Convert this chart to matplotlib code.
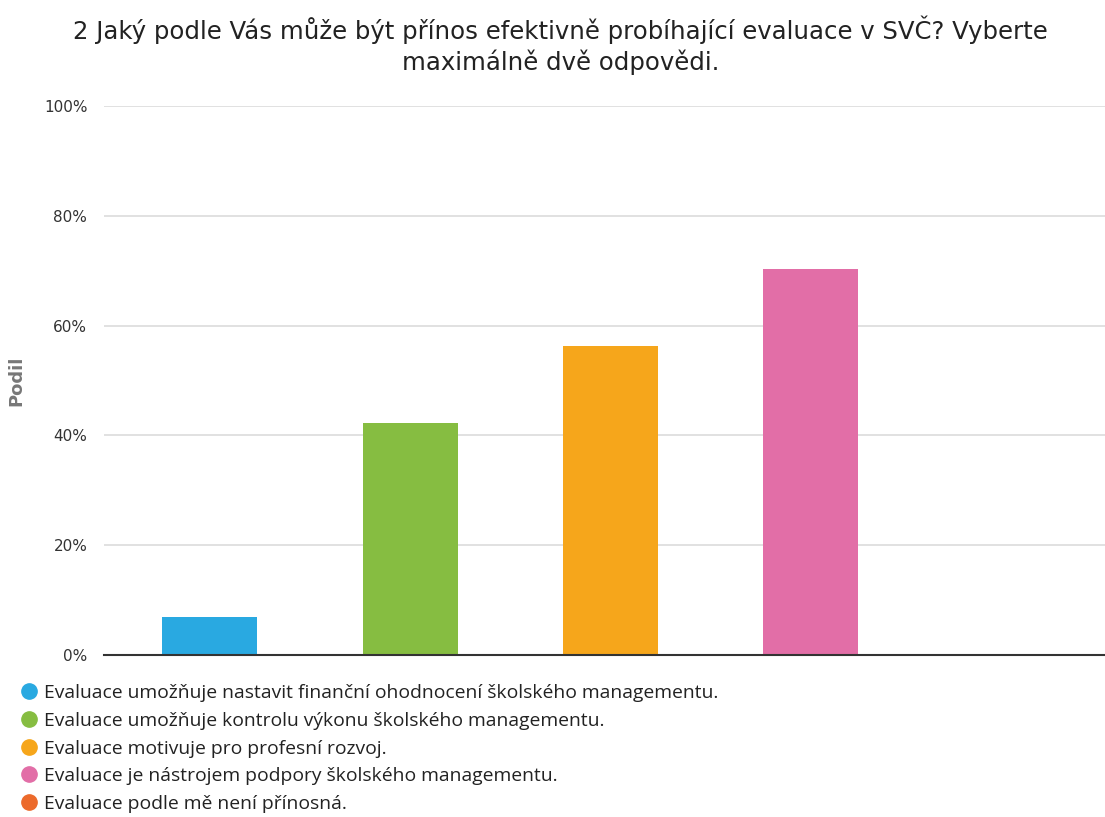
import matplotlib
matplotlib.use("Agg")
import matplotlib.pyplot as plt
from matplotlib.lines import Line2D
from matplotlib.ticker import PercentFormatter

title = "2 Jaký podle Vás může být přínos efektivně probíhající evaluace v SVČ? Vyberte\nmaximálně dvě odpovědi."
categories = [
    "Evaluace umožňuje nastavit finanční ohodnocení školského managementu.",
    "Evaluace umožňuje kontrolu výkonu školského managementu.",
    "Evaluace motivuje pro profesní rozvoj.",
    "Evaluace je nástrojem podpory školského managementu.",
    "Evaluace podle mě není přínosná.",
]
values = [7.0, 42.3, 56.3, 70.4, 0.0]
colors = ["#29a9e1", "#86bd41", "#f6a61b", "#e26ea7", "#ec6a2b"]
yticks = [0, 20, 40, 60, 80, 100]
ylabel = "Podil"

plt.rcParams['font.family'] = ['Open Sans', 'DejaVu Sans']

fig = plt.figure(figsize=(11.05, 8.17), dpi=100)
ax = fig.add_axes([0.0941, 0.1983, 0.9059, 0.6717])

x = list(range(len(categories)))
ax.bar(x, values, width=0.475, color=colors, zorder=3)
ax.set_xlim(-0.529, len(categories) - 0.529)
ax.set_ylim(0, 100)
ax.set_yticks(yticks)
ax.yaxis.set_major_formatter(PercentFormatter(decimals=0))
ax.set_xticks([])
ax.grid(axis='y', color='#dcdcdc', linewidth=1.2, zorder=0)
for s in ['top', 'right', 'left']:
    ax.spines[s].set_visible(False)
ax.spines['bottom'].set_color('#333333')
ax.spines['bottom'].set_linewidth(1.5)
ax.spines['bottom'].set_zorder(4)
ax.tick_params(axis='y', length=0, pad=12, labelsize=11, labelcolor='#333333')
for lbl in ax.get_yticklabels():
    lbl.set_family(['DejaVu Sans'])
ax.set_ylabel(ylabel, fontsize=13, fontweight='bold', color='#777777', labelpad=13,
              family=['DejaVu Sans'])

fig.suptitle(title, x=0.507, fontsize=17.6, y=0.981, color='#222222', linespacing=1.26,
             family=['DejaVu Sans'])

handles = [Line2D([0], [0], marker='o', linestyle='', markersize=11,
                  markerfacecolor=c, markeredgecolor=c) for c in colors]
fig.legend(handles, categories, loc='upper left', bbox_to_anchor=(0.008, 0.172),
           frameon=False, fontsize=13.9, handletextpad=0.12, labelspacing=0.5,
           handlelength=1.3, borderaxespad=0, labelcolor='#222222')

fig.savefig("out.png", dpi=100)
